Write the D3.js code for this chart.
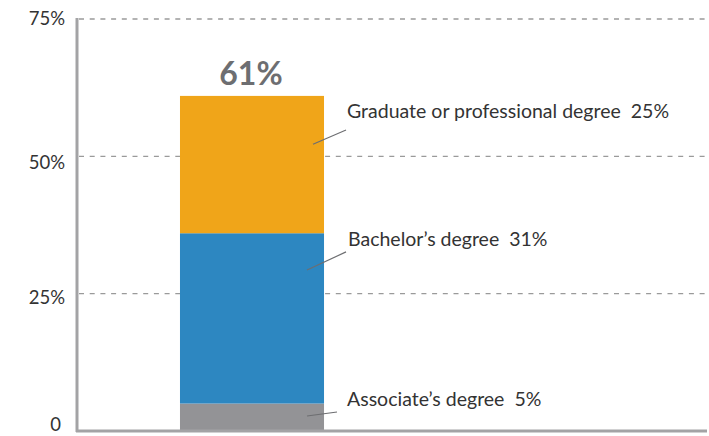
<!DOCTYPE html>
<html>
<head>
    <script src="https://d3js.org/d3.v7.min.js"></script>
    <style>
        body { margin: 0; background: #fff; }
        text { font-family: Lato, "Open Sans", sans-serif; white-space: pre; }
    </style>
</head>
<body>
    <div id="chart"></div>

    <script>
        // Data
        const categories = ["Associate's degree", "Bachelor\u2019s degree", "Graduate or professional degree"];
        const labels = ["Associate\u2019s degree  5%", "Bachelor\u2019s degree  31%", "Graduate or professional degree  25%"];
        const values = [5, 31, 25];
        const colors = ["#939396", "#2d87c1", "#f0a519"];
        const yTicks = [0, 25, 50, 75];
        const totalLabel = "61%";

        const width = 709, height = 436;
        const svg = d3.select("#chart").append("svg")
            .attr("width", width)
            .attr("height", height);

        const y = d3.scaleLinear().domain([0, 75]).range([431, 19]);
        const x = d3.scaleBand().domain(["all"]).range([77, 427]).paddingInner(0).paddingOuter(0.715);

        // gridlines
        svg.selectAll(".grid")
            .data(yTicks.filter(d => d > 0))
            .enter().append("line")
            .attr("x1", 79).attr("x2", 706)
            .attr("y1", d => y(d)).attr("y2", d => y(d))
            .attr("stroke", "#9a9a9a")
            .attr("stroke-width", 1.3)
            .attr("stroke-dasharray", "5,5.7");

        // tick labels (the labels sit a bit below their lines)
        const tickDy = { 0: 0, 25: 10, 50: 13, 75: 6 };
        svg.selectAll(".tick")
            .data(yTicks)
            .enter().append("text")
            .attr("x", d => d === 0 ? 61 : 65)
            .attr("y", d => y(d) + tickDy[d])
            .attr("text-anchor", "end")
            .attr("font-size", 18.5)
            .attr("fill", "#333")
            .text(d => d === 0 ? "0" : d + "%");

        // stacked segments
        let acc = 0;
        const stacked = values.map((v, i) => {
            const s = { y0: acc, y1: acc + v, i: i };
            acc += v;
            return s;
        });

        svg.selectAll(".seg")
            .data(stacked)
            .enter().append("rect")
            .attr("x", x("all"))
            .attr("width", x.bandwidth())
            .attr("y", d => y(d.y1))
            .attr("height", d => y(d.y0) - y(d.y1))
            .attr("fill", d => colors[d.i]);

        // total label
        svg.append("text")
            .attr("x", x("all") + x.bandwidth() / 2 - 1)
            .attr("y", y(acc) - 11)
            .attr("text-anchor", "middle")
            .attr("font-size", 32)
            .attr("font-weight", "bold")
            .attr("fill", "#6d6e71")
            .text(totalLabel);

        // segment labels with leader lines
        const barRight = x("all") + x.bandwidth();
        const leaders = [
            { x1: barRight - 17, y1: y(2.73), x2: barRight + 13, y2: y(3.46), tx: barRight + 23, ty: y(4.55) },
            { x1: barRight - 17, y1: y(29.3), x2: barRight + 22, y2: y(32.6), tx: barRight + 24, ty: y(33.7) },
            { x1: barRight - 11, y1: y(52.2), x2: barRight + 22, y2: y(54.8), tx: barRight + 23, ty: y(56.9) }
        ];

        svg.selectAll(".leader")
            .data(leaders)
            .enter().append("line")
            .attr("x1", d => d.x1).attr("y1", d => d.y1)
            .attr("x2", d => d.x2).attr("y2", d => d.y2)
            .attr("stroke", "#6d6e71")
            .attr("stroke-width", 1.2);

        svg.selectAll(".seglabel")
            .data(leaders)
            .enter().append("text")
            .attr("x", d => d.tx)
            .attr("y", d => d.ty)
            .attr("font-size", 19.5)
            .attr("fill", "#333")
            .text((d, i) => labels[i]);

        // axes lines
        svg.append("line")
            .attr("x1", 77).attr("x2", 77)
            .attr("y1", 18).attr("y2", 432)
            .attr("stroke", "#a3a3a5").attr("stroke-width", 3);
        svg.append("line")
            .attr("x1", 76).attr("x2", 707)
            .attr("y1", 431).attr("y2", 431)
            .attr("stroke", "#a3a3a5").attr("stroke-width", 3);
    </script>
</body>
</html>
